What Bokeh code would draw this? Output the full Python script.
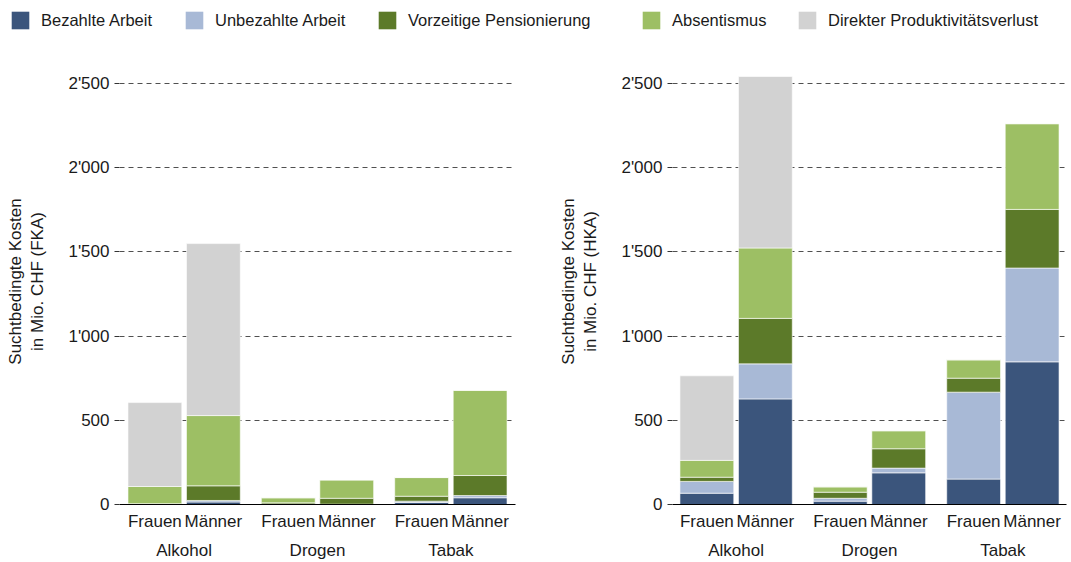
from bokeh.plotting import figure
from bokeh.models import FactorRange, Range1d, Legend, LegendItem, FixedTicker, ColumnDataSource
from bokeh.layouts import column, row
from bokeh.embed import file_html
from bokeh.resources import INLINE

# ---------------- data ----------------
categories = ["Alkohol", "Drogen", "Tabak"]
sexes = ["Frauen", "Männer"]
series = ["Bezahlte Arbeit", "Unbezahlte Arbeit", "Vorzeitige Pensionierung",
          "Absentismus", "Direkter Produktivitätsverlust"]
keys = ["bezahlt", "unbezahlt", "vorzeitig", "absentismus", "direkt"]
colors = ["#3B557C", "#A8B9D6", "#5C7A29", "#9DBF64", "#D2D2D2"]

# order: Alkohol F, Alkohol M, Drogen F, Drogen M, Tabak F, Tabak M
bezahlt_fka = [2, 15, 1, 1, 12, 40]
unbezahlt_fka = [1, 9, 1, 1, 8, 13]
vorzeitig_fka = [2, 87, 8, 35, 29, 119]
absentismus_fka = [102, 417, 30, 109, 111, 506]
direkt_fka = [498, 1021, 0, 0, 0, 0]

bezahlt_hka = [67, 627, 20, 188, 151, 847]
unbezahlt_hka = [70, 208, 17, 28, 516, 557]
vorzeitig_hka = [25, 270, 36, 115, 83, 348]
absentismus_hka = [100, 418, 32, 107, 109, 509]
direkt_hka = [502, 1018, 0, 0, 0, 0]

y_ticks = [0, 500, 1000, 1500, 2000, 2500]
y_tick_labels = ["0", "500", "1'000", "1'500", "2'000", "2'500"]

ylabel_fka = "Suchtbedingte Kosten\nin Mio. CHF (FKA)"
ylabel_hka = "Suchtbedingte Kosten\nin Mio. CHF (HKA)"

FONT = "Liberation Sans"
FS_LEG = "16.5px"
FS = "17px"
TXT = "#1a1a1a"

# legend item start offsets (layout, px)
legend_x = [9, 183, 376, 640, 796]


def make_chart(vals, ylabel, width, border_right, rpad):
    factors = [(c, s) for c in categories for s in sexes]
    data = dict(x=factors)
    for k, v in zip(keys, vals):
        data[k] = v
    src = ColumnDataSource(data)
    xr = FactorRange(*factors, factor_padding=0.0, group_padding=0.28,
                     range_padding=rpad, range_padding_units="absolute")
    p = figure(x_range=xr, y_range=Range1d(0, 2648), width=width, height=526,
               output_backend="svg", toolbar_location=None,
               min_border_top=22, min_border_bottom=10, min_border_left=119,
               min_border_right=border_right)
    p.vbar_stack(keys, x="x", width=0.92, source=src, fill_color=colors,
                 line_color="white", line_width=1, line_alpha=0.6)
    p.outline_line_color = None
    p.xgrid.grid_line_color = None
    p.ygrid.ticker = FixedTicker(ticks=y_ticks[1:])
    p.ygrid.grid_line_color = "#505050"
    p.ygrid.grid_line_dash = "5 4"
    p.ygrid.grid_line_width = 1

    ya = p.yaxis[0]
    ya.ticker = FixedTicker(ticks=y_ticks)
    ya.major_label_overrides = dict(zip(y_ticks, y_tick_labels))
    ya.axis_line_color = None
    ya.major_tick_line_color = "#333333"
    ya.major_tick_out = 5
    ya.major_tick_in = 0
    ya.minor_tick_line_color = None
    ya.major_label_standoff = 5
    ya.major_label_text_font = FONT
    ya.major_label_text_font_size = FS
    ya.major_label_text_color = TXT
    ya.axis_label = ylabel
    ya.axis_label_text_font = FONT
    ya.axis_label_text_font_size = FS
    ya.axis_label_text_font_style = "normal"
    ya.axis_label_text_color = TXT
    ya.axis_label_standoff = 18

    xa = p.xaxis[0]
    xa.axis_line_color = "black"
    xa.axis_line_width = 1
    xa.major_tick_line_color = None
    xa.major_tick_out = 0
    xa.major_tick_in = 0
    xa.major_label_standoff = 7
    xa.major_label_text_font = FONT
    xa.major_label_text_font_size = FS
    xa.major_label_text_color = TXT
    xa.group_text_font = FONT
    xa.group_text_font_size = FS
    xa.group_text_font_style = "normal"
    xa.group_text_color = TXT
    xa.separator_line_color = None
    return p


p1 = make_chart([bezahlt_fka, unbezahlt_fka, vorzeitig_fka, absentismus_fka, direkt_fka],
                ylabel_fka, 553, 38, 0.105)
p2 = make_chart([bezahlt_hka, unbezahlt_hka, vorzeitig_hka, absentismus_hka, direkt_hka],
                ylabel_hka, 518, 5, 0.0875)

# legend strip
lg = figure(width=1071, height=36, x_range=Range1d(0, 1), y_range=Range1d(0, 1),
            output_backend="svg", toolbar_location=None, min_border=0,
            x_axis_location=None, y_axis_location=None)
lg.outline_line_color = None
lg.grid.visible = False
for name, col, lx in zip(series, colors, legend_x):
    # placed outside the visible range; only used for the legend swatch
    r = lg.vbar(x=[5], top=[1], width=0.5, fill_color=col, line_color=None)
    leg = Legend(items=[LegendItem(label=name, renderers=[r])],
                 orientation="horizontal", location=(lx, 5),
                 label_text_font=FONT, label_text_font_size=FS_LEG,
                 label_text_color=TXT, glyph_width=22, glyph_height=22,
                 label_height=22, label_standoff=10, spacing=0, padding=0,
                 margin=0, border_line_color=None, background_fill_alpha=0)
    lg.add_layout(leg, "center")

layout = column(lg, row(p1, p2))
open("out.html", "w").write(file_html(layout, INLINE))
